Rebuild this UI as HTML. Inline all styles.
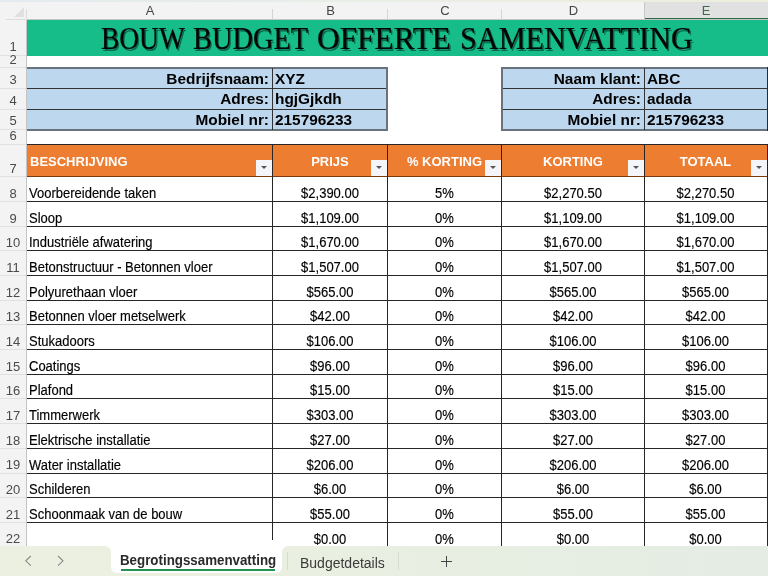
<!DOCTYPE html>
<html><head><meta charset="utf-8"><title>Bouw budget offerte samenvatting</title>
<style>
*{margin:0;padding:0;box-sizing:border-box}
html,body{width:768px;height:576px;overflow:hidden;background:#fff}
body{position:relative;font-family:"Liberation Sans",Arial,sans-serif;color:#000}
.a{position:absolute}
.t{position:absolute;white-space:nowrap;line-height:1}
.hl{position:absolute;height:1px;background:#262626}
.vl{position:absolute;width:1px;background:#262626}
.colh{position:absolute;top:2px;height:17px;font-size:13px;color:#444;text-align:center;line-height:17px;font-family:"Liberation Sans",sans-serif}
.rowh{position:absolute;left:0;width:26px;font-size:13px;color:#4a4a4a;text-align:center;font-family:"Liberation Sans",sans-serif}
.d{position:absolute;font-size:13px;white-space:nowrap;line-height:13px;transform:scaleY(1.07);transform-origin:0 10.8px;-webkit-text-stroke:0.15px #000}
.fb{position:absolute;width:16px;height:16px;background:#f3f5f8}
.fb:after{content:"";position:absolute;left:5px;top:6px;border-left:3px solid transparent;border-right:3px solid transparent;border-top:3px solid #555}
</style></head><body>

<div class="a" style="left:0;top:0;width:768px;height:2px;background:linear-gradient(90deg,#e4eaee,#e9eee6 50%,#efeedc)"></div>
<div class="a" style="left:0;top:2px;width:768px;height:18px;background:#f3f3f3"></div>
<div class="a" style="left:645px;top:2px;width:123px;height:17px;background:#e1e1e1"></div>
<div class="a" style="left:27px;top:19px;width:741px;height:1px;background:#c4c4c4"></div>
<div class="a" style="left:6px;top:19px;width:20px;height:1px;background:#dcdcdc"></div>
<div class="a" style="left:645px;top:18px;width:123px;height:1px;background:#2f6a48"></div>
<div class="a" style="left:272px;top:9px;width:1px;height:10px;background:#d4d4d4"></div>
<div class="a" style="left:387px;top:9px;width:1px;height:10px;background:#d4d4d4"></div>
<div class="a" style="left:501px;top:9px;width:1px;height:10px;background:#d4d4d4"></div>
<div class="a" style="left:644px;top:9px;width:1px;height:10px;background:#d4d4d4"></div>
<div class="a" style="left:644px;top:2px;width:1px;height:17px;background:#c8c8c8"></div>
<div class="colh" style="left:27px;width:246px;color:#454545">A</div>
<div class="colh" style="left:273px;width:115px;color:#454545">B</div>
<div class="colh" style="left:388px;width:114px;color:#454545">C</div>
<div class="colh" style="left:502px;width:143px;color:#454545">D</div>
<div class="colh" style="left:645px;width:122px;color:#3d6b4f">E</div>
<div class="a" style="left:0;top:20px;width:26px;height:526px;background:#f3f3f3"></div>
<div class="a" style="left:26px;top:20px;width:1px;height:526px;background:#c4c4c4"></div>
<div class="a" style="left:26px;top:9px;width:1px;height:10px;background:#dadada"></div>
<div class="a" style="left:14px;top:7px;width:0;height:0;border-left:10px solid transparent;border-bottom:10px solid #e0e0e0"></div>
<div class="a" style="left:0;top:55px;width:26px;height:1px;background:#e0e0e0"></div>
<div class="rowh" style="top:39.30px;height:16px;line-height:16px">1</div>
<div class="a" style="left:0;top:67px;width:26px;height:1px;background:#e0e0e0"></div>
<div class="rowh" style="top:52.00px;height:16px;line-height:16px">2</div>
<div class="a" style="left:0;top:88px;width:26px;height:1px;background:#e0e0e0"></div>
<div class="rowh" style="top:72.00px;height:16px;line-height:16px">3</div>
<div class="a" style="left:0;top:109px;width:26px;height:1px;background:#e0e0e0"></div>
<div class="rowh" style="top:93.00px;height:16px;line-height:16px">4</div>
<div class="a" style="left:0;top:129px;width:26px;height:1px;background:#e0e0e0"></div>
<div class="rowh" style="top:113.40px;height:16px;line-height:16px">5</div>
<div class="a" style="left:0;top:144px;width:26px;height:1px;background:#e0e0e0"></div>
<div class="rowh" style="top:128.00px;height:16px;line-height:16px">6</div>
<div class="a" style="left:0;top:176px;width:26px;height:1px;background:#e0e0e0"></div>
<div class="rowh" style="top:161.00px;height:16px;line-height:16px">7</div>
<div class="a" style="left:0;top:201px;width:26px;height:1px;background:#e0e0e0"></div>
<div class="rowh" style="top:185.86px;height:16px;line-height:16px">8</div>
<div class="a" style="left:0;top:226px;width:26px;height:1px;background:#e0e0e0"></div>
<div class="rowh" style="top:210.54px;height:16px;line-height:16px">9</div>
<div class="a" style="left:0;top:250px;width:26px;height:1px;background:#e0e0e0"></div>
<div class="rowh" style="top:235.22px;height:16px;line-height:16px">10</div>
<div class="a" style="left:0;top:275px;width:26px;height:1px;background:#e0e0e0"></div>
<div class="rowh" style="top:259.91px;height:16px;line-height:16px">11</div>
<div class="a" style="left:0;top:300px;width:26px;height:1px;background:#e0e0e0"></div>
<div class="rowh" style="top:284.59px;height:16px;line-height:16px">12</div>
<div class="a" style="left:0;top:324px;width:26px;height:1px;background:#e0e0e0"></div>
<div class="rowh" style="top:309.28px;height:16px;line-height:16px">13</div>
<div class="a" style="left:0;top:349px;width:26px;height:1px;background:#e0e0e0"></div>
<div class="rowh" style="top:333.96px;height:16px;line-height:16px">14</div>
<div class="a" style="left:0;top:374px;width:26px;height:1px;background:#e0e0e0"></div>
<div class="rowh" style="top:358.65px;height:16px;line-height:16px">15</div>
<div class="a" style="left:0;top:398px;width:26px;height:1px;background:#e0e0e0"></div>
<div class="rowh" style="top:383.33px;height:16px;line-height:16px">16</div>
<div class="a" style="left:0;top:423px;width:26px;height:1px;background:#e0e0e0"></div>
<div class="rowh" style="top:408.02px;height:16px;line-height:16px">17</div>
<div class="a" style="left:0;top:448px;width:26px;height:1px;background:#e0e0e0"></div>
<div class="rowh" style="top:432.70px;height:16px;line-height:16px">18</div>
<div class="a" style="left:0;top:473px;width:26px;height:1px;background:#e0e0e0"></div>
<div class="rowh" style="top:457.39px;height:16px;line-height:16px">19</div>
<div class="a" style="left:0;top:497px;width:26px;height:1px;background:#e0e0e0"></div>
<div class="rowh" style="top:482.07px;height:16px;line-height:16px">20</div>
<div class="a" style="left:0;top:522px;width:26px;height:1px;background:#e0e0e0"></div>
<div class="rowh" style="top:506.76px;height:16px;line-height:16px">21</div>
<div class="a" style="left:0;top:547px;width:26px;height:1px;background:#e0e0e0"></div>
<div class="rowh" style="top:531.44px;height:16px;line-height:16px">22</div>
<div class="a" style="left:27px;top:20px;width:741px;height:36px;background:#16bd89"></div>
<div class="t" style="left:100.62px;top:23px;font-family:'Liberation Serif',serif;font-size:31px;transform:scaleX(0.8848);transform-origin:0 0;color:#050505;-webkit-text-stroke:0.2px #050505;text-shadow:1.5px 1.5px 0 #0c6a4c;line-height:32px">BOUW</div>
<div class="t" style="left:193.08px;top:23px;font-family:'Liberation Serif',serif;font-size:31px;transform:scaleX(0.9163);transform-origin:0 0;color:#050505;-webkit-text-stroke:0.2px #050505;text-shadow:1.5px 1.5px 0 #0c6a4c;line-height:32px">BUDGET</div>
<div class="t" style="left:316.99px;top:23px;font-family:'Liberation Serif',serif;font-size:31px;transform:scaleX(1.0114);transform-origin:0 0;color:#050505;-webkit-text-stroke:0.2px #050505;text-shadow:1.5px 1.5px 0 #0c6a4c;line-height:32px">OFFERTE</div>
<div class="t" style="left:459.55px;top:23px;font-family:'Liberation Serif',serif;font-size:31px;transform:scaleX(0.9747);transform-origin:0 0;color:#050505;-webkit-text-stroke:0.2px #050505;text-shadow:1.5px 1.5px 0 #0c6a4c;line-height:32px">SAMENVATTING</div>
<div class="a" style="left:27px;top:68px;width:360px;height:62px;background:#bdd7ee"></div>
<div class="a" style="left:27px;top:67px;width:360px;height:2px;background:#68737d"></div>
<div class="a" style="left:27px;top:129px;width:360px;height:2px;background:#68737d"></div>
<div class="hl" style="left:27px;top:88px;width:360px;background:#333"></div>
<div class="hl" style="left:27px;top:109px;width:360px;background:#333"></div>
<div class="a" style="left:501px;top:68px;width:266px;height:62px;background:#bdd7ee"></div>
<div class="a" style="left:501px;top:67px;width:266px;height:2px;background:#68737d"></div>
<div class="a" style="left:501px;top:129px;width:266px;height:2px;background:#68737d"></div>
<div class="hl" style="left:501px;top:88px;width:266px;background:#333"></div>
<div class="hl" style="left:501px;top:109px;width:266px;background:#333"></div>
<div class="a" style="left:386px;top:67px;width:2px;height:64px;background:#68737d"></div>
<div class="vl" style="left:272px;top:68px;height:62px;background:#333"></div>
<div class="a" style="left:501px;top:67px;width:2px;height:64px;background:#68737d"></div>
<div class="vl" style="left:644px;top:68px;height:62px;background:#333"></div>
<div class="a" style="left:767px;top:67px;width:1px;height:64px;background:#2a2a2a"></div>
<div class="t" style="right:499px;top:71px;font-size:15.4px;font-weight:bold">Bedrijfsnaam:</div>
<div class="t" style="left:275px;top:71px;font-size:15.4px;font-weight:bold">XYZ</div>
<div class="t" style="right:127px;top:71px;font-size:15.4px;font-weight:bold">Naam klant:</div>
<div class="t" style="left:647px;top:71px;font-size:15.4px;font-weight:bold">ABC</div>
<div class="t" style="right:499px;top:91px;font-size:15.4px;font-weight:bold">Adres:</div>
<div class="t" style="left:275px;top:91px;font-size:15.4px;font-weight:bold">hgjGjkdh</div>
<div class="t" style="right:127px;top:91px;font-size:15.4px;font-weight:bold">Adres:</div>
<div class="t" style="left:647px;top:91px;font-size:15.4px;font-weight:bold">adada</div>
<div class="t" style="right:499px;top:112px;font-size:15.4px;font-weight:bold">Mobiel nr:</div>
<div class="t" style="left:275px;top:112px;font-size:15.4px;font-weight:bold">215796233</div>
<div class="t" style="right:127px;top:112px;font-size:15.4px;font-weight:bold">Mobiel nr:</div>
<div class="t" style="left:647px;top:112px;font-size:15.4px;font-weight:bold">215796233</div>
<div class="a" style="left:27px;top:144px;width:740px;height:33px;background:#ed7d31"></div>
<div class="hl" style="left:27px;top:144px;width:740px"></div>
<div class="hl" style="left:27px;top:176px;width:740px;background:#7a3a10"></div>
<div class="t" style="left:30px;top:154.5px;font-size:13px;font-weight:bold;color:#fff">BESCHRIJVING</div>
<div class="fb" style="left:256px;top:160px"></div>
<div class="t" style="left:273px;width:114px;text-align:center;top:154.5px;font-size:13px;font-weight:bold;color:#fff">PRIJS</div>
<div class="fb" style="left:371px;top:160px"></div>
<div class="t" style="left:388px;width:113px;text-align:center;top:154.5px;font-size:13px;font-weight:bold;color:#fff">% KORTING</div>
<div class="fb" style="left:485px;top:160px"></div>
<div class="t" style="left:502px;width:142px;text-align:center;top:154.5px;font-size:13px;font-weight:bold;color:#fff">KORTING</div>
<div class="fb" style="left:628px;top:160px"></div>
<div class="t" style="left:645px;width:121px;text-align:center;top:154.5px;font-size:13px;font-weight:bold;color:#fff">TOTAAL</div>
<div class="fb" style="left:751px;top:160px"></div>
<div class="hl" style="left:27px;top:201px;width:740px"></div>
<div class="hl" style="left:27px;top:226px;width:740px"></div>
<div class="hl" style="left:27px;top:250px;width:740px"></div>
<div class="hl" style="left:27px;top:275px;width:740px"></div>
<div class="hl" style="left:27px;top:300px;width:740px"></div>
<div class="hl" style="left:27px;top:324px;width:740px"></div>
<div class="hl" style="left:27px;top:349px;width:740px"></div>
<div class="hl" style="left:27px;top:374px;width:740px"></div>
<div class="hl" style="left:27px;top:398px;width:740px"></div>
<div class="hl" style="left:27px;top:423px;width:740px"></div>
<div class="hl" style="left:27px;top:448px;width:740px"></div>
<div class="hl" style="left:27px;top:473px;width:740px"></div>
<div class="hl" style="left:27px;top:497px;width:740px"></div>
<div class="hl" style="left:27px;top:522px;width:740px"></div>
<div class="vl" style="left:272px;top:144px;height:402px"></div>
<div class="vl" style="left:387px;top:144px;height:402px"></div>
<div class="vl" style="left:501px;top:144px;height:402px"></div>
<div class="vl" style="left:644px;top:144px;height:402px"></div>
<div class="vl" style="left:767px;top:144px;height:402px"></div>
<div class="d" style="left:29px;top:186.7px">Voorbereidende taken</div>
<div class="d" style="left:273px;width:114px;text-align:center;top:186.7px">$2,390.00</div>
<div class="d" style="left:388px;width:113px;text-align:center;top:186.7px">5%</div>
<div class="d" style="left:502px;width:142px;text-align:center;top:186.7px">$2,270.50</div>
<div class="d" style="left:645px;width:121px;text-align:center;top:186.7px">$2,270.50</div>
<div class="d" style="left:29px;top:211.7px">Sloop</div>
<div class="d" style="left:273px;width:114px;text-align:center;top:211.7px">$1,109.00</div>
<div class="d" style="left:388px;width:113px;text-align:center;top:211.7px">0%</div>
<div class="d" style="left:502px;width:142px;text-align:center;top:211.7px">$1,109.00</div>
<div class="d" style="left:645px;width:121px;text-align:center;top:211.7px">$1,109.00</div>
<div class="d" style="left:29px;top:235.7px">Industriële afwatering</div>
<div class="d" style="left:273px;width:114px;text-align:center;top:235.7px">$1,670.00</div>
<div class="d" style="left:388px;width:113px;text-align:center;top:235.7px">0%</div>
<div class="d" style="left:502px;width:142px;text-align:center;top:235.7px">$1,670.00</div>
<div class="d" style="left:645px;width:121px;text-align:center;top:235.7px">$1,670.00</div>
<div class="d" style="left:29px;top:260.7px">Betonstructuur - Betonnen vloer</div>
<div class="d" style="left:273px;width:114px;text-align:center;top:260.7px">$1,507.00</div>
<div class="d" style="left:388px;width:113px;text-align:center;top:260.7px">0%</div>
<div class="d" style="left:502px;width:142px;text-align:center;top:260.7px">$1,507.00</div>
<div class="d" style="left:645px;width:121px;text-align:center;top:260.7px">$1,507.00</div>
<div class="d" style="left:29px;top:285.7px">Polyurethaan vloer</div>
<div class="d" style="left:273px;width:114px;text-align:center;top:285.7px">$565.00</div>
<div class="d" style="left:388px;width:113px;text-align:center;top:285.7px">0%</div>
<div class="d" style="left:502px;width:142px;text-align:center;top:285.7px">$565.00</div>
<div class="d" style="left:645px;width:121px;text-align:center;top:285.7px">$565.00</div>
<div class="d" style="left:29px;top:309.7px">Betonnen vloer metselwerk</div>
<div class="d" style="left:273px;width:114px;text-align:center;top:309.7px">$42.00</div>
<div class="d" style="left:388px;width:113px;text-align:center;top:309.7px">0%</div>
<div class="d" style="left:502px;width:142px;text-align:center;top:309.7px">$42.00</div>
<div class="d" style="left:645px;width:121px;text-align:center;top:309.7px">$42.00</div>
<div class="d" style="left:29px;top:334.7px">Stukadoors</div>
<div class="d" style="left:273px;width:114px;text-align:center;top:334.7px">$106.00</div>
<div class="d" style="left:388px;width:113px;text-align:center;top:334.7px">0%</div>
<div class="d" style="left:502px;width:142px;text-align:center;top:334.7px">$106.00</div>
<div class="d" style="left:645px;width:121px;text-align:center;top:334.7px">$106.00</div>
<div class="d" style="left:29px;top:359.7px">Coatings</div>
<div class="d" style="left:273px;width:114px;text-align:center;top:359.7px">$96.00</div>
<div class="d" style="left:388px;width:113px;text-align:center;top:359.7px">0%</div>
<div class="d" style="left:502px;width:142px;text-align:center;top:359.7px">$96.00</div>
<div class="d" style="left:645px;width:121px;text-align:center;top:359.7px">$96.00</div>
<div class="d" style="left:29px;top:383.7px">Plafond</div>
<div class="d" style="left:273px;width:114px;text-align:center;top:383.7px">$15.00</div>
<div class="d" style="left:388px;width:113px;text-align:center;top:383.7px">0%</div>
<div class="d" style="left:502px;width:142px;text-align:center;top:383.7px">$15.00</div>
<div class="d" style="left:645px;width:121px;text-align:center;top:383.7px">$15.00</div>
<div class="d" style="left:29px;top:408.7px">Timmerwerk</div>
<div class="d" style="left:273px;width:114px;text-align:center;top:408.7px">$303.00</div>
<div class="d" style="left:388px;width:113px;text-align:center;top:408.7px">0%</div>
<div class="d" style="left:502px;width:142px;text-align:center;top:408.7px">$303.00</div>
<div class="d" style="left:645px;width:121px;text-align:center;top:408.7px">$303.00</div>
<div class="d" style="left:29px;top:433.7px">Elektrische installatie</div>
<div class="d" style="left:273px;width:114px;text-align:center;top:433.7px">$27.00</div>
<div class="d" style="left:388px;width:113px;text-align:center;top:433.7px">0%</div>
<div class="d" style="left:502px;width:142px;text-align:center;top:433.7px">$27.00</div>
<div class="d" style="left:645px;width:121px;text-align:center;top:433.7px">$27.00</div>
<div class="d" style="left:29px;top:458.7px">Water installatie</div>
<div class="d" style="left:273px;width:114px;text-align:center;top:458.7px">$206.00</div>
<div class="d" style="left:388px;width:113px;text-align:center;top:458.7px">0%</div>
<div class="d" style="left:502px;width:142px;text-align:center;top:458.7px">$206.00</div>
<div class="d" style="left:645px;width:121px;text-align:center;top:458.7px">$206.00</div>
<div class="d" style="left:29px;top:482.7px">Schilderen</div>
<div class="d" style="left:273px;width:114px;text-align:center;top:482.7px">$6.00</div>
<div class="d" style="left:388px;width:113px;text-align:center;top:482.7px">0%</div>
<div class="d" style="left:502px;width:142px;text-align:center;top:482.7px">$6.00</div>
<div class="d" style="left:645px;width:121px;text-align:center;top:482.7px">$6.00</div>
<div class="d" style="left:29px;top:507.70000000000005px">Schoonmaak van de bouw</div>
<div class="d" style="left:273px;width:114px;text-align:center;top:507.70000000000005px">$55.00</div>
<div class="d" style="left:388px;width:113px;text-align:center;top:507.70000000000005px">0%</div>
<div class="d" style="left:502px;width:142px;text-align:center;top:507.70000000000005px">$55.00</div>
<div class="d" style="left:645px;width:121px;text-align:center;top:507.70000000000005px">$55.00</div>
<div class="d" style="left:273px;width:114px;text-align:center;top:532.7px">$0.00</div>
<div class="d" style="left:388px;width:113px;text-align:center;top:532.7px">0%</div>
<div class="d" style="left:502px;width:142px;text-align:center;top:532.7px">$0.00</div>
<div class="d" style="left:645px;width:121px;text-align:center;top:532.7px">$0.00</div>
<div class="a" style="left:0;top:546px;width:768px;height:30px;background:linear-gradient(90deg,#ecf0e0 0%,#e9efe1 45%,#e4ece4 100%)"></div>
<div class="a" style="left:111px;top:540px;width:171px;height:33px;background:#fff;border-radius:0 0 6px 6px"></div>
<div class="a" style="left:105px;top:546px;width:6px;height:6px;background:#fff"></div>
<div class="a" style="left:105px;top:546px;width:6px;height:6px;background:#ebf0e0;border-top-right-radius:6px"></div>
<div class="a" style="left:282px;top:546px;width:6px;height:6px;background:#fff"></div>
<div class="a" style="left:282px;top:546px;width:6px;height:6px;background:#eaefe1;border-top-left-radius:6px"></div>
<svg class="a" style="left:24px;top:555px" width="9" height="12" viewBox="0 0 9 12"><path d="M6.8 1 L1.8 5.8 L6.8 10.6" fill="none" stroke="#8a8a8a" stroke-width="1.1"/></svg>
<svg class="a" style="left:56px;top:555px" width="9" height="12" viewBox="0 0 9 12"><path d="M2 1 L7 5.8 L2 10.6" fill="none" stroke="#8a8a8a" stroke-width="1.1"/></svg>
<div class="t" style="left:119.6px;top:553.8px;font-size:13.6px;font-weight:bold;color:#2a2a2a;transform:scale(0.98,1.1);transform-origin:0 11.5px">Begrotingssamenvatting</div>
<div class="a" style="left:121px;top:569.4px;width:153.5px;height:1.8px;background:#229152"></div>
<div class="a" style="left:287px;top:552px;width:1px;height:18px;background:#d9dbd2"></div>
<div class="t" style="left:300px;top:555.5px;font-size:14px;color:#3a3a3a">Budgetdetails</div>
<div class="a" style="left:398px;top:552px;width:1px;height:18px;background:#d9dbd2"></div>
<div class="a" style="left:441px;top:560.5px;width:11px;height:1.3px;background:#444"></div>
<div class="a" style="left:445.8px;top:556px;width:1.3px;height:10.5px;background:#444"></div>
</body></html>
